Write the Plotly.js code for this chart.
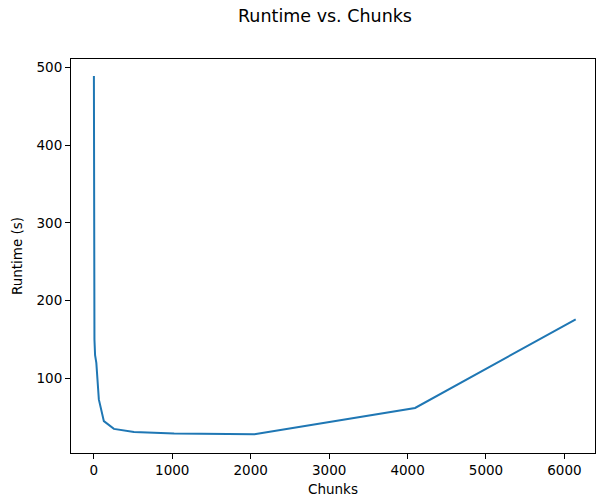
<!DOCTYPE html>
<html>
<head>
<meta charset="utf-8">
<script src="https://cdn.plot.ly/plotly-3.0.1.min.js"></script>
<style>
html,body{margin:0;padding:0;background:#fff;overflow:hidden;}
#chart{width:596px;height:497px;}
</style>
</head>
<body>
<div id="chart"></div>
<script>
const chunks = [1, 2, 4, 8, 16, 32, 64, 128, 256, 512, 1024, 2048, 4096, 6144];
const runtime = [489, 260, 190, 150, 130, 120, 73, 45, 35, 31, 29, 28, 62, 176];
const titleText = "Runtime vs. Chunks";
const xLabel = "Chunks";
const yLabel = "Runtime (s)";

const font = {family: "DejaVu Sans, sans-serif", size: 13.5, color: "#000"};

const trace = {
  x: chunks, y: runtime, type: "scatter", mode: "lines",
  line: {color: "#1f77b4", width: 2}, hoverinfo: "none"
};

const axisCommon = {
  showgrid: false, zeroline: false, showline: true, linecolor: "#000", linewidth: 1,
  mirror: true, ticks: "outside", ticklen: 5, tickwidth: 1, tickcolor: "#000",
  tickfont: font
};

const layout = {
  width: 596, height: 497,
  margin: {l: 71, r: 1, t: 59, b: 44},
  paper_bgcolor: "#fff", plot_bgcolor: "#fff",
  font: font,
  showlegend: false,
  title: {text: titleText, font: {family: font.family, size: 17.5, color: "#000"},
          x: 325/596, xref: "container", xanchor: "center",
          y: 1 - 16/497, yref: "container", yanchor: "middle"},
  xaxis: Object.assign({}, axisCommon, {
    range: [-291, 6390], tickvals: [0,1000,2000,3000,4000,5000,6000],
    ticktext: ["0","1000","2000","3000","4000","5000","6000"],
    title: {text: xLabel, font: font, standoff: 8}
  }),
  yaxis: Object.assign({}, axisCommon, {
    range: [4, 511], tickvals: [100,200,300,400,500],
    ticktext: ["100","200","300","400","500"],
    title: {text: yLabel, font: font, standoff: 10}
  })
};

Plotly.newPlot("chart", [trace], layout, {staticPlot: true, displayModeBar: false});
</script>
</body>
</html>
